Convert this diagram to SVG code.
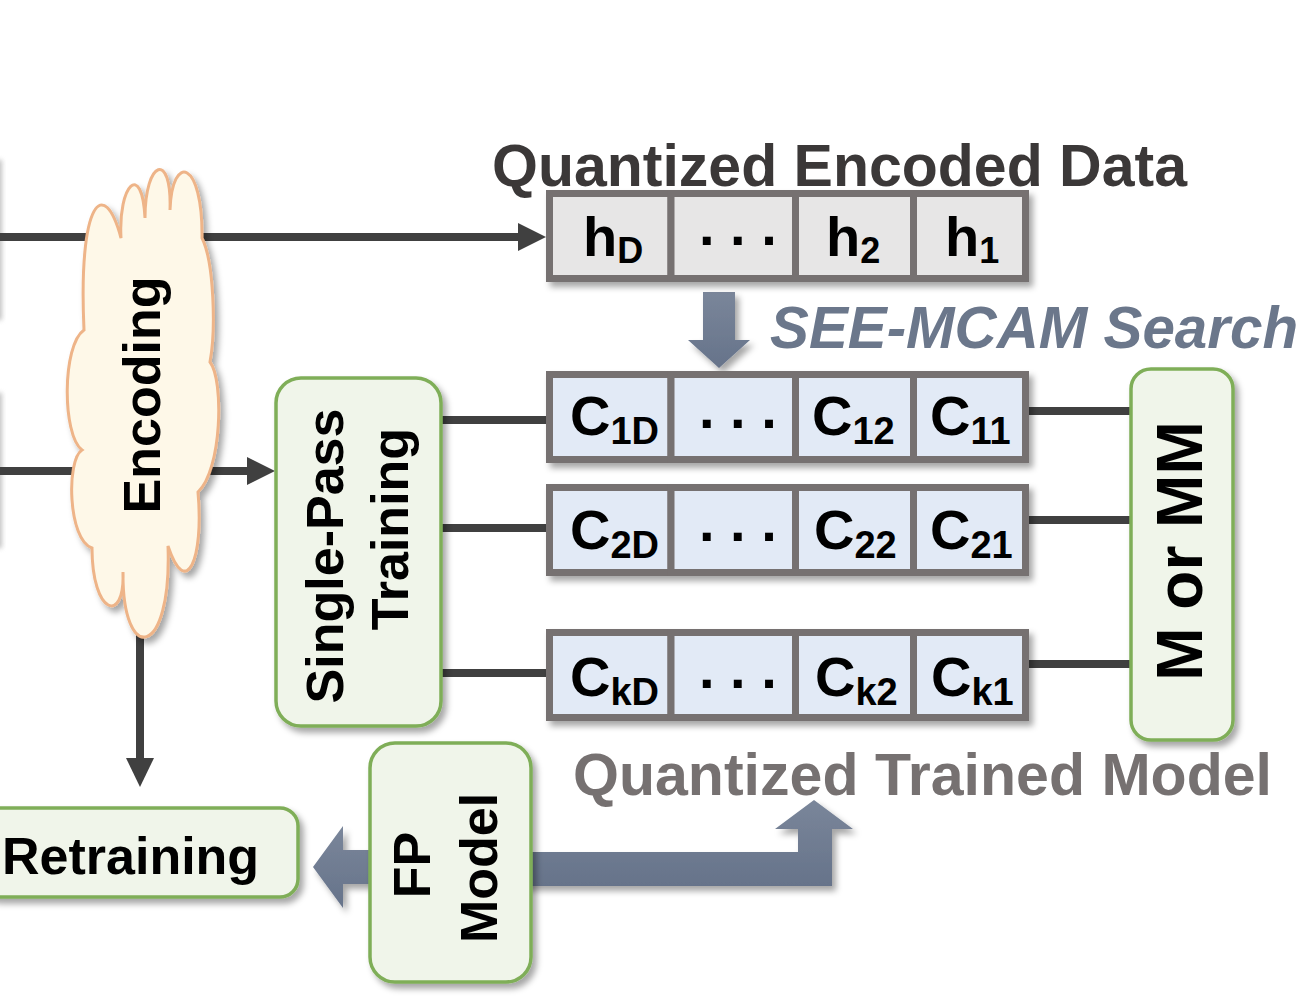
<svg xmlns="http://www.w3.org/2000/svg" width="1308" height="1008" viewBox="0 0 1308 1008">
<defs>
<filter id="sh" x="-20%" y="-20%" width="150%" height="150%">
<feDropShadow dx="4" dy="5" stdDeviation="3" flood-color="#000" flood-opacity="0.35"/>
</filter>
<filter id="edge" x="-50%" y="-50%" width="200%" height="200%">
<feGaussianBlur stdDeviation="2.5"/>
</filter>
<linearGradient id="slate" x1="0" y1="0" x2="0" y2="1">
<stop offset="0" stop-color="#7a869a"/>
<stop offset="1" stop-color="#66738a"/>
</linearGradient>
</defs>
<style>
text{font-family:"Liberation Sans",Arial,Helvetica,sans-serif;font-weight:bold;fill:#000}
.cellH{fill:#e7e6e6;stroke:#767171;stroke-width:7}
.cellC{fill:#e2eaf6;stroke:#767171;stroke-width:7}
.green{fill:#f0f5ea;stroke:#7fae58;stroke-width:3.5}
.wire{stroke:#404040;stroke-width:8;fill:none}
.head{fill:#404040}
.slate{fill:url(#slate)}
.big{font-size:56px}
.sub{font-size:38px}
.subh{font-size:36px}
.lbl{font-size:52px}
.title{font-size:59px}
</style>
<rect width="1308" height="1008" fill="#fff"/>

<g id="left-edge">
<rect x="-6" y="160" width="8" height="160" fill="#9a9a9a" opacity="0.6" filter="url(#edge)"/>
<rect x="-6" y="393" width="8" height="155" fill="#9a9a9a" opacity="0.6" filter="url(#edge)"/>
</g>

<g id="connectors">
<line class="wire" x1="0" y1="237" x2="520" y2="237"/>
<polygon class="head" points="546,237 518,223 518,251"/>
<line class="wire" x1="0" y1="471" x2="249" y2="471"/>
<polygon class="head" points="275,471 247,457 247,485"/>
<line class="wire" x1="140" y1="600" x2="140" y2="760"/>
<polygon class="head" points="140,787 126,758 154,758"/>
<line class="wire" x1="438" y1="420" x2="549" y2="420"/>
<line class="wire" x1="438" y1="528" x2="549" y2="528"/>
<line class="wire" x1="438" y1="673" x2="549" y2="673"/>
<line class="wire" x1="1026" y1="411" x2="1133" y2="411"/>
<line class="wire" x1="1026" y1="520" x2="1133" y2="520"/>
<line class="wire" x1="1026" y1="664" x2="1133" y2="664"/>
<g filter="url(#sh)">
<polygon class="slate" points="703,292 735,292 735,340 750,340 719,368 688,340 703,340"/>
<polygon class="slate" points="380,850 343,850 343,826 313,867 343,908 343,884 380,884"/>
<polygon class="slate" points="520,852 798,852 798,829 775,829 814,800 853,829 832,829 832,886 520,886"/>
</g>
</g>

<g id="encoding" filter="url(#sh)">
<path fill="#fef8e8" stroke="#eeb488" stroke-width="3" d="M84 330 C78 200 104 175 121 238 C118 185 142 160 145 218 C145 160 172 150 170 210 C172 152 203 160 202 238 C214 262 216 330 210 362 C224 380 222 470 198 492 C204 560 186 600 168 546 C172 660 122 665 123 572 C125 625 92 615 92 548 C68 540 66 460 82 450 C62 435 62 345 84 330 Z"/>
<text class="lbl" transform="translate(160,395) rotate(-90)" text-anchor="middle" font-size="51">Encoding</text>
</g>

<g id="single-pass-training">
<rect class="green" x="276" y="378" width="165" height="348" rx="25" filter="url(#sh)"/>
<text class="lbl" transform="translate(343,556) rotate(-90)" text-anchor="middle">Single-Pass</text>
<text class="lbl" transform="translate(408,529) rotate(-90)" text-anchor="middle">Training</text>
</g>

<g id="quantized-encoded-data">
<text class="title" x="492" y="186" textLength="695" lengthAdjust="spacingAndGlyphs" style="fill:#3b3838">Quantized Encoded Data</text>
<g filter="url(#sh)">
<rect class="cellH" x="549.5" y="193.5" width="121.5" height="85"/>
<rect class="cellH" x="671" y="193.5" width="124.5" height="85"/>
<rect class="cellH" x="795.5" y="193.5" width="118" height="85"/>
<rect class="cellH" x="913.5" y="193.5" width="112" height="85"/>
</g>
<text class="big" x="583" y="256">h<tspan class="subh" dy="7">D</tspan></text>
<text class="big" x="699" y="245">. . .</text>
<text class="big" x="826" y="256">h<tspan class="subh" dy="7">2</tspan></text>
<text class="big" x="945" y="256">h<tspan class="subh" dy="7">1</tspan></text>
</g>

<g id="see-mcam-search">
<text class="title" x="770" y="348" font-style="italic" textLength="528" lengthAdjust="spacingAndGlyphs" style="fill:#6b778b">SEE-MCAM Search</text>
</g>

<g id="class-row-1">
<g filter="url(#sh)">
<rect class="cellC" x="549.5" y="374.5" width="121.5" height="85"/>
<rect class="cellC" x="671" y="374.5" width="124.5" height="85"/>
<rect class="cellC" x="795.5" y="374.5" width="118" height="85"/>
<rect class="cellC" x="913.5" y="374.5" width="112" height="85"/>
</g>
<text class="big" x="570" y="435">C<tspan class="sub" dy="9">1D</tspan></text>
<text class="big" x="699" y="428">. . .</text>
<text class="big" x="812" y="435">C<tspan class="sub" dy="9">12</tspan></text>
<text class="big" x="930" y="435">C<tspan class="sub" dy="9">11</tspan></text>
</g>

<g id="class-row-2">
<g filter="url(#sh)">
<rect class="cellC" x="549.5" y="487.5" width="121.5" height="85"/>
<rect class="cellC" x="671" y="487.5" width="124.5" height="85"/>
<rect class="cellC" x="795.5" y="487.5" width="118" height="85"/>
<rect class="cellC" x="913.5" y="487.5" width="112" height="85"/>
</g>
<text class="big" x="570" y="549">C<tspan class="sub" dy="9">2D</tspan></text>
<text class="big" x="699" y="541">. . .</text>
<text class="big" x="814" y="549">C<tspan class="sub" dy="9">22</tspan></text>
<text class="big" x="930" y="549">C<tspan class="sub" dy="9">21</tspan></text>
</g>

<g id="class-row-k">
<g filter="url(#sh)">
<rect class="cellC" x="549.5" y="632.5" width="121.5" height="85"/>
<rect class="cellC" x="671" y="632.5" width="124.5" height="85"/>
<rect class="cellC" x="795.5" y="632.5" width="118" height="85"/>
<rect class="cellC" x="913.5" y="632.5" width="112" height="85"/>
</g>
<text class="big" x="570" y="696">C<tspan class="sub" dy="9">kD</tspan></text>
<text class="big" x="699" y="688">. . .</text>
<text class="big" x="815" y="696">C<tspan class="sub" dy="9">k2</tspan></text>
<text class="big" x="931" y="696">C<tspan class="sub" dy="9">k1</tspan></text>
</g>

<g id="m-or-mm">
<rect class="green" x="1131" y="369" width="102" height="371" rx="20" filter="url(#sh)"/>
<text transform="translate(1202,551) rotate(-90)" text-anchor="middle" font-size="64">M or MM</text>
</g>

<g id="quantized-trained-model">
<text class="title" x="573" y="795" textLength="699" lengthAdjust="spacingAndGlyphs" style="fill:#767171">Quantized Trained Model</text>
</g>

<g id="retraining">
<rect class="green" x="-20" y="808" width="318" height="89" rx="18" filter="url(#sh)"/>
<text class="lbl" x="2" y="874">Retraining</text>
</g>

<g id="fp-model">
<rect class="green" x="370" y="743" width="161" height="239" rx="25" filter="url(#sh)"/>
<text class="lbl" transform="translate(430,865) rotate(-90)" text-anchor="middle">FP</text>
<text class="lbl" transform="translate(497,868) rotate(-90)" text-anchor="middle">Model</text>
</g>
</svg>
